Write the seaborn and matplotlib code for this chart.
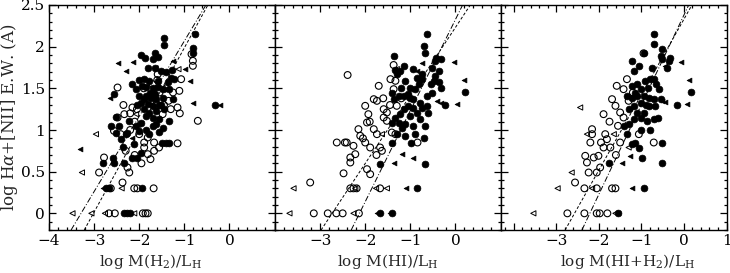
import matplotlib
matplotlib.use("Agg")
import matplotlib.pyplot as plt
import seaborn as sns
from matplotlib.ticker import MultipleLocator, FuncFormatter

# ---------------- data: panel 1, log M(H2)/L_H ----------------
h2_fill_x = [-0.76, -1.44, -1.46, -0.81, -0.81, -1.64, -1.59, -1.70, -1.80, -1.64, -1.52, -1.28,
             -1.89, -1.78, -1.59, -1.37, -1.22, -2.15, -2.07, -1.93, -1.70, -1.59, -1.48, -1.33,
             -2.56, -2.00, -1.85, -1.74, -1.63, -1.48, -1.26, -1.96, -1.81, -1.70, -1.52, -1.89,
             -1.78, -1.63, -1.85, -1.70, -1.56, -2.52, -2.63, -2.22, -2.07, -1.96, -1.63, -1.48,
             -1.33, -0.33, -2.52, -2.26, -2.00, -1.78, -2.41, -2.11, -1.50, -1.41, -1.33, -2.58,
             -2.15, -2.04, -1.96, -2.81, -2.56, -2.33, -2.74, -2.67, -1.93, -2.34, -2.27, -2.21,
             -1.95, -1.88, -2.35, -2.00, -1.85, -1.75, -1.65, -1.55, -1.90, -2.05, -1.70, -1.55,
             -2.30, -2.45, -1.40, -1.30, -1.45, -1.85]
h2_fill_y = [2.15, 2.10, 2.02, 1.98, 1.93, 1.92, 1.88, 1.85, 1.74, 1.74, 1.71, 1.72,
             1.61, 1.59, 1.59, 1.58, 1.61, 1.55, 1.49, 1.53, 1.51, 1.52, 1.49, 1.49,
             1.43, 1.41, 1.41, 1.39, 1.37, 1.39, 1.37, 1.33, 1.31, 1.29, 1.30, 1.25,
             1.21, 1.23, 1.17, 1.15, 1.13, 1.16, 1.05, 1.11, 1.05, 1.09, 1.07, 1.03,
             1.11, 1.30, 0.97, 0.97, 0.99, 0.95, 0.89, 0.83, 0.85, 0.85, 0.84, 0.67,
             0.67, 0.67, 0.72, 0.60, 0.60, 0.60, 0.30, 0.30, 0.30, 0.00, 0.00, 0.00,
             1.90, 1.87, 0.80, 1.60, 1.52, 1.45, 1.43, 1.30, 1.37, 1.30, 1.05, 0.98,
             0.95, 1.05, 1.70, 1.62, 1.25, 1.00]
h2_open_x = [-0.84, -0.81, -0.81, -1.07, -2.48, -2.15, -1.11, -1.15, -0.70, -1.48, -1.59, -2.48,
             -2.33, -2.56, -2.41, -1.81, -1.89, -1.89, -1.67, -1.67, -1.81, -1.56, -1.15, -2.78,
             -2.89, -2.26, -2.22, -2.37, -2.05, -2.10, -1.75, -1.60, -1.55, -1.40, -1.25, -1.70,
             -1.90, -2.20, -1.45, -1.35, -2.30, -2.10, -2.00, -1.95, -1.75, -2.20, -2.35, -1.60,
             -1.30, -1.10, -2.63, -2.11, -2.04, -1.68, -2.67, -2.54, -1.92, -1.86, -1.81]
h2_open_y = [1.91, 1.83, 1.77, 1.61, 1.51, 1.27, 1.47, 1.27, 1.11, 1.19, 1.67, 1.15,
             1.19, 0.99, 0.95, 0.91, 0.85, 0.79, 0.85, 0.75, 0.71, 0.79, 0.84, 0.67,
             0.49, 0.55, 0.49, 0.37, 1.25, 1.10, 1.35, 1.30, 1.45, 1.50, 1.45, 1.55,
             1.50, 1.20, 1.30, 1.35, 0.75, 0.70, 0.95, 0.60, 0.65, 1.00, 1.30, 1.60,
             1.25, 1.20, 0.30, 0.30, 0.30, 0.30, 0.00, 0.00, 0.00, 0.00, 0.00]
h2_lim_x = [-2.47, -2.13, -2.30, -2.64, -3.31, -0.87, -0.81, -0.21, -0.98, -1.26, -2.15, -2.80]
h2_lim_y = [1.81, 1.82, 1.71, 1.38, 0.77, 1.59, 1.32, 1.30, 1.73, 1.83, 0.91, 0.30]
h2_olim_x = [-3.48, -3.06, -3.27, -2.96, -2.39, -2.76, -2.11, -1.64, -1.13, -2.07]
h2_olim_y = [0.00, 0.00, 0.49, 0.95, 0.30, 0.00, 0.00, 1.74, 1.73, 1.19]

# ---------------- data: panel 2, log M(HI)/L_H ----------------
hi_fill_x = [-0.63, -0.70, -0.67, -0.42, -0.46, -0.33, -1.36, -1.15, -1.33, -1.22, -1.30, -0.93,
             -0.74, -0.52, -0.37, -0.74, -0.81, -0.89, -1.00, -1.11, -1.04, -1.15, -1.26, -1.37,
             -1.41, -0.93, -0.78, -0.63, -0.48, -0.37, -0.33, -0.52, -0.63, -0.74, -0.93, -1.04,
             -1.15, -1.22, -1.33, -1.41, -1.26, -1.00, -1.11, -0.93, -0.78, -0.67, -1.30, -1.19,
             -1.11, -1.41, -0.99, -0.67, -1.67, 0.22, -0.24, -0.85, -1.67, -1.41,
             -0.55, -0.45, -0.85, -1.00, -0.85, -0.60, -1.20, -0.90, -0.70]
hi_fill_y = [2.15, 2.01, 1.93, 1.87, 1.83, 1.85, 1.89, 1.77, 1.72, 1.71, 1.67, 1.73,
             1.67, 1.75, 1.71, 1.61, 1.55, 1.49, 1.51, 1.59, 1.43, 1.41, 1.41, 1.37,
             1.45, 1.37, 1.33, 1.41, 1.59, 1.58, 1.51, 1.45, 1.29, 1.27, 1.27, 1.29,
             1.25, 1.19, 1.15, 1.09, 1.09, 1.17, 1.07, 1.05, 1.13, 1.05, 0.95, 1.03,
             0.93, 0.85, 0.85, 0.59, 0.59, 1.46, 1.30, 0.30, 0.00, 0.00,
             1.55, 1.65, 1.62, 1.38, 1.20, 1.20, 1.50, 0.95, 0.90]
hi_open_x = [-2.39, -1.44, -1.33, -1.70, -1.37, -1.81, -1.74, -2.00, -1.93, -1.59, -1.52, -1.59,
             -1.52, -1.30, -2.15, -2.11, -1.96, -1.81, -1.74, -1.41, -1.33, -2.63, -2.41, -2.26,
             -2.22, -2.33, -2.33, -2.00, -1.89, -1.67, -1.63, -1.96, -1.89, -2.48, -3.22, -0.84,
             -1.37, -1.60, -1.45, -1.20, -1.90, -2.05, -1.75, -2.45,
             -2.33, -2.26, -2.19, -1.67, -3.14, -2.83, -2.64, -2.50, -2.14]
hi_open_y = [1.66, 1.61, 1.59, 1.53, 1.49, 1.37, 1.35, 1.29, 1.19, 1.25, 1.21, 1.15,
             1.11, 1.29, 1.01, 0.93, 1.09, 1.01, 0.95, 0.97, 0.95, 0.85, 0.85, 0.81,
             0.71, 0.67, 0.61, 0.85, 0.79, 0.79, 0.75, 0.53, 0.47, 0.48, 0.37, 0.85,
             1.78, 1.38, 1.30, 1.38, 1.10, 0.90, 0.70, 0.85,
             0.30, 0.30, 0.30, 0.30, 0.00, 0.00, 0.00, 0.00, 0.00]
hi_lim_x = [-0.04, 0.20, -0.85, -0.74, -0.41, -0.33, 0.04, -1.19, -1.37, -0.93, -1.10, -1.74, -1.44]
hi_lim_y = [1.82, 1.60, 1.71, 1.81, 1.35, 1.32, 1.31, 0.71, 0.61, 0.66, 0.30, 0.00, 0.00]
hi_olim_x = [-3.59, -3.68, -2.22, -1.52, -1.76, -2.26, -1.30, -1.63]
hi_olim_y = [0.30, 0.00, 0.30, 0.30, 0.30, 0.00, 1.73, 0.95]

# ---------------- data: panel 3, log M(HI+H2)/L_H ----------------
tot_fill_x = [-0.71, -0.71, -0.52, -0.95, -0.55, -0.52, -0.32, -0.36, -1.22, -1.18, -1.06, -0.79,
              -0.71, -0.91, -1.02, -1.10, -1.22, -1.34, -1.22, -1.10, -0.95, -0.83, -0.71, -0.59,
              -0.55, -0.67, -0.83, -1.02, -1.18, -1.30, -1.10, -0.95, -1.18, -1.02, -0.87, -0.71,
              -1.30, -1.42, -1.34, -1.22, -1.14, -1.06, -0.52, -0.99, -0.52, -1.77, -0.16, 0.17,
              -0.93, -1.54, -0.85, -0.65, -0.90, -0.60, -1.00, -0.80, -1.15, -0.40, -0.75]
tot_fill_y = [2.15, 2.03, 1.97, 1.93, 1.89, 1.85, 1.87, 1.83, 1.83, 1.71, 1.77, 1.61,
              1.61, 1.59, 1.49, 1.55, 1.53, 1.41, 1.39, 1.41, 1.41, 1.39, 1.37, 1.49,
              1.37, 1.29, 1.29, 1.33, 1.29, 1.25, 1.21, 1.21, 1.13, 1.15, 1.11, 1.13,
              1.07, 1.05, 0.95, 0.83, 0.85, 0.79, 0.85, 0.67, 0.60, 0.60, 1.30, 1.46,
              0.30, 0.00, 1.50, 1.55, 1.30, 1.15, 1.00, 1.00, 1.45, 1.75, 1.75]
tot_open_x = [-0.95, -1.34, -1.58, -1.42, -1.69, -1.61, -1.89, -1.50, -1.42, -2.16, -2.16, -2.20,
              -1.85, -1.81, -1.89, -1.73, -2.01, -2.12, -2.32, -2.28, -2.24, -2.05, -1.97, -2.56,
              -1.06, -0.71, -1.30, -1.20, -1.55, -1.75, -1.50, -1.95, -1.60,
              -2.34, -2.05, -1.69, -1.61, -2.74, -2.34, -2.05, -1.98, -1.80]
tot_open_y = [1.92, 1.61, 1.53, 1.49, 1.37, 1.29, 1.19, 1.21, 1.15, 1.01, 0.95, 0.85,
              0.95, 0.89, 0.79, 0.79, 0.69, 0.67, 0.69, 0.61, 0.49, 0.49, 0.55, 0.37,
              0.95, 0.85, 1.35, 1.45, 1.05, 1.10, 0.85, 0.85, 0.70,
              0.30, 0.30, 0.30, 0.30, 0.00, 0.00, 0.00, 0.00, 0.00]
tot_lim_x = [-0.08, 0.11, -0.44, -0.52, -0.44, 0.07, -1.26, -1.46, -1.22, -1.54]
tot_lim_y = [1.82, 1.60, 1.77, 1.35, 1.34, 1.31, 0.69, 0.60, 0.30, 0.00]
tot_olim_x = [-3.54, -2.97, -2.64, -2.44, -2.28, -2.16, -1.61, -1.65, -1.30]
tot_olim_y = [0.00, 0.30, 0.49, 1.27, 0.95, 0.30, 0.00, 0.95, 0.79]

# fitted lines: (intercept, slope)
fit_h2 = [(2.97, 0.903), (2.97, 0.985)]
fit_hi = [(2.23, 0.816), (2.325, 1.093)]
fit_tot = [(2.33, 0.906), (2.38, 1.076)]

xlabels = [r"log M(H$_2$)/L$_{\rm H}$", r"log M(HI)/L$_{\rm H}$", r"log M(HI+H$_2$)/L$_{\rm H}$"]
ylabel = r"log H$\alpha$+[NII] E.W. (A)"
xlims = [(-4, 1), (-4, 1), (-4.3, 1)]
xticklabs = [[-4, -3, -2, -1, 0], [-3, -2, -1, 0], [-3, -2, -1, 0, 1]]

# ---------------- styling ----------------
sns.set_theme(style="ticks")
plt.rcParams["font.family"] = ["DejaVu Serif"]
plt.rcParams["mathtext.fontset"] = "dejavuserif"

W, H = 730, 273
fig = plt.figure(figsize=(W / 100, H / 100), dpi=100)

lefts = [49, 275, 501]
pw = 225.5
bottom, top = 230, 5
label_cx = [0.45, 0.5, 0.56]

panels = [
    (h2_fill_x, h2_fill_y, h2_open_x, h2_open_y, h2_lim_x, h2_lim_y, h2_olim_x, h2_olim_y, fit_h2),
    (hi_fill_x, hi_fill_y, hi_open_x, hi_open_y, hi_lim_x, hi_lim_y, hi_olim_x, hi_olim_y, fit_hi),
    (tot_fill_x, tot_fill_y, tot_open_x, tot_open_y, tot_lim_x, tot_lim_y, tot_olim_x, tot_olim_y, fit_tot),
]
styles = [(0, (6, 2, 1, 2)), (0, (3, 2))]

for i, (fx, fy, ox, oy, lx, ly, olx, oly, fits) in enumerate(panels):
    ax = fig.add_axes([lefts[i] / W, 1 - bottom / H, pw / W, (bottom - top) / H])
    ax.set_facecolor("white")
    sns.scatterplot(x=fx, y=fy, ax=ax, marker="o", s=24, color="black", edgecolor="black",
                    linewidth=0.5, zorder=3)
    sns.scatterplot(x=ox, y=oy, ax=ax, marker="o", s=24, facecolor="none", edgecolor="black",
                    linewidth=0.8, zorder=3)
    sns.scatterplot(x=lx, y=ly, ax=ax, marker="<", s=12, color="black", edgecolor="black",
                    linewidth=0.5, zorder=3)
    sns.scatterplot(x=olx, y=oly, ax=ax, marker="<", s=14, facecolor="none", edgecolor="black",
                    linewidth=0.7, zorder=3)
    order = [0, 1] if i == 0 else [1, 0]
    for (b0, b1), ls in zip(fits, [styles[order[0]], styles[order[1]]]):
        ax.axline((0, b0), slope=b1, color="black", lw=0.7, linestyle=ls, zorder=2)

    ax.set_xlim(*xlims[i])
    ax.set_ylim(-0.2, 2.5)
    ax.xaxis.set_major_locator(MultipleLocator(1))
    ax.xaxis.set_minor_locator(MultipleLocator(0.2))
    ax.yaxis.set_major_locator(MultipleLocator(0.5))
    ax.yaxis.set_minor_locator(MultipleLocator(0.1))
    labs = xticklabs[i]
    ax.xaxis.set_major_formatter(FuncFormatter(
        lambda v, p, labs=labs: ("\u2212%d" % abs(round(v)) if round(v) < 0 else "%d" % round(v))
        if any(abs(v - l) < 1e-6 for l in labs) else ""))
    if i == 0:
        ax.yaxis.set_major_formatter(FuncFormatter(
            lambda v, p: "%g" % v if v >= -1e-9 else ""))
    else:
        ax.set_yticklabels([])
    ax.tick_params(which="both", direction="in", top=True, right=True, colors="black",
                   labelsize=11, width=0.9)
    ax.tick_params(which="major", length=5)
    ax.tick_params(which="minor", length=2.5)
    ax.tick_params(axis="x", which="major", pad=3)
    ax.tick_params(axis="y", which="major", pad=3)
    ax.text(label_cx[i], -0.138, xlabels[i], transform=ax.transAxes, ha="center",
            va="center", fontsize=11)
    for s in ax.spines.values():
        s.set_color("black")
        s.set_linewidth(1.0)
    if ax.get_legend():
        ax.get_legend().remove()

fig.text(10 / W, 1 - 117 / H, ylabel, rotation=90, ha="center", va="center", fontsize=12)

fig.savefig("out.png", dpi=100, facecolor="white")
